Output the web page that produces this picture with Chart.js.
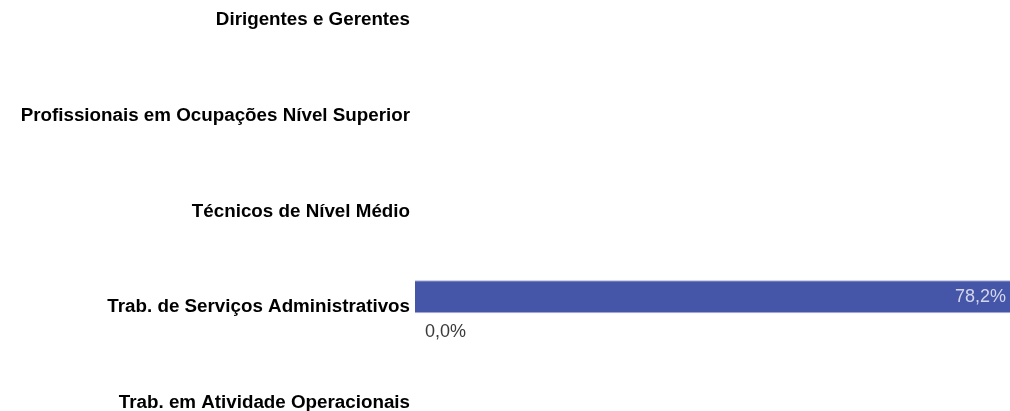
<!DOCTYPE html>
<html lang="pt-BR">
<head>
<meta charset="utf-8">
<title>Ocupações</title>
<script src="https://cdn.jsdelivr.net/npm/chart.js@4.4.1/dist/chart.umd.min.js"></script>
<style>
  html, body { margin: 0; padding: 0; background: #fff; overflow: hidden; }
  #wrap { position: relative; width: 1010px; height: 430px; }
</style>
</head>
<body>
<div id="wrap"><canvas id="chartOcup"></canvas></div>
<script>
const categorias = [
  "Dirigentes e Gerentes",
  "Profissionais em Ocupações Nível Superior",
  "Técnicos de Nível Médio",
  "Trab. de Serviços Administrativos",
  "Trab. em Atividade Operacionais"
];
const serieA = [null, null, null, 78.2, null];
const serieB = [null, null, null, 0.0, null];

let chartOcup = null;

document.addEventListener("DOMContentLoaded", function () {
  pintarChart();
});

function formatoPct(v) {
  return v.toFixed(1).replace(".", ",") + "%";
}

// rótulos de valor desenhados à mão (sem plugin externo)
const rotulosPlugin = {
  id: "rotulos",
  afterDatasetsDraw: function (chart) {
    const ctx = chart.ctx;
    ctx.save();
    ctx.font = "18px 'Liberation Sans', Arial, sans-serif";
    ctx.textBaseline = "middle";
    chart.data.datasets.forEach(function (ds, i) {
      const meta = chart.getDatasetMeta(i);
      meta.data.forEach(function (bar, j) {
        const v = ds.data[j];
        if (v === null || v === undefined) return;
        if (i === 0) {
          ctx.fillStyle = "#d3d6ec";
          ctx.textAlign = "right";
          ctx.fillText(formatoPct(v), bar.x - 4, bar.y);
        } else {
          ctx.fillStyle = "#3a3a3a";
          ctx.textAlign = "left";
          ctx.fillText(formatoPct(v), bar.base + 10, bar.y + 2);
        }
      });
    });
    ctx.restore();
  }
};

function pintarChart() {
  const canvas = document.getElementById("chartOcup");
  const ctx = canvas.getContext("2d");
  if (chartOcup) chartOcup.destroy();

  chartOcup = new Chart(ctx, {
    type: "bar",
    data: {
      labels: categorias,
      datasets: [
        {
          label: "A",
          data: serieA,
          backgroundColor: "#4556a8",
          borderColor: "#a9b0dc",
          borderWidth: { top: 1, bottom: 1, left: 0, right: 0 },
          categoryPercentage: 0.69,
          barPercentage: 1
        },
        {
          label: "B",
          data: serieB,
          backgroundColor: "#ffffff",
          categoryPercentage: 0.69,
          barPercentage: 1
        }
      ]
    },
    options: {
      indexAxis: "y",
      responsive: true,
      maintainAspectRatio: false,
      animation: false,
      layout: { padding: { top: 26, bottom: 21, left: 0, right: 0 } },
      plugins: {
        legend: { display: false },
        tooltip: { enabled: false }
      },
      scales: {
        x: {
          display: false,
          min: 0,
          max: 78.2
        },
        y: {
          offset: false,
          grid: { display: false, drawTicks: false },
          border: { display: false },
          afterFit: function (s) { s.width = 415; },
          ticks: {
            color: "#000",
            padding: 5,
            labelOffset: -6,
            autoSkip: false,
            font: { family: "'Liberation Sans', Arial, sans-serif", size: 18.8, weight: "bold" }
          }
        }
      }
    },
    plugins: [rotulosPlugin]
  });
}
</script>
</body>
</html>
